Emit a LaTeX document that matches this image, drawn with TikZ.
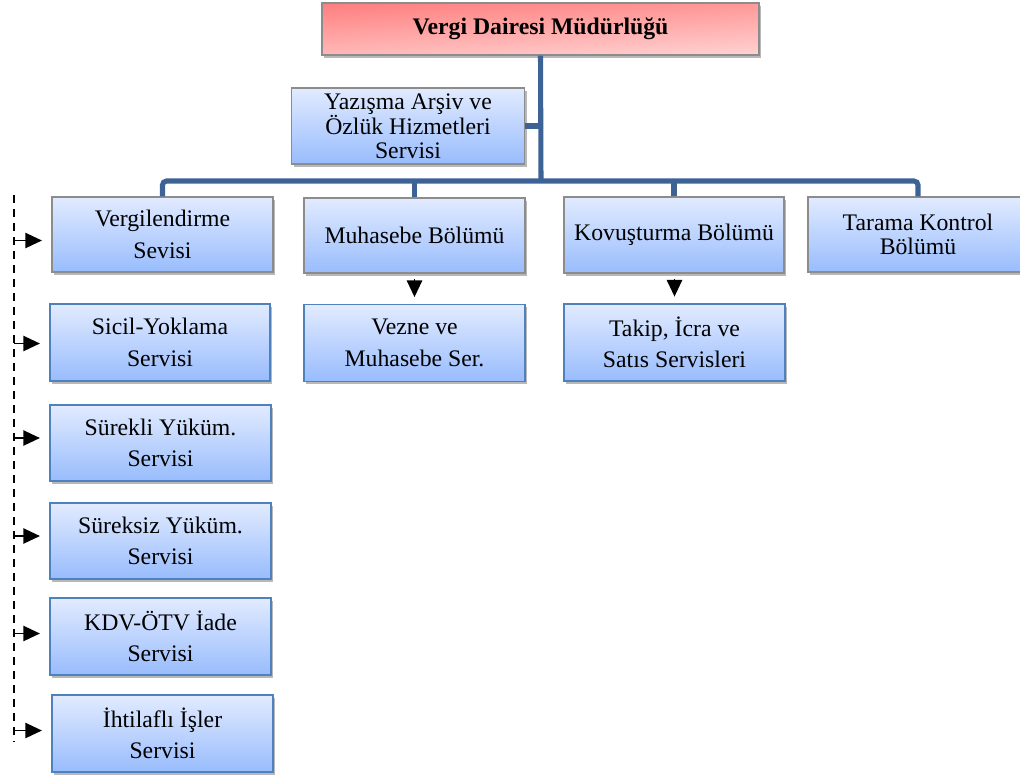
\documentclass[tikz,border=0pt]{standalone}
\usepackage{fontspec}
\setmainfont{Liberation Serif}
\newfontfamily\boxfont{Liberation Serif}
\usetikzlibrary{arrows.meta,shadows}

\definecolor{linkblue}{RGB}{61,99,150}
\definecolor{boxtop}{RGB}{226,235,255}
\definecolor{boxbot}{RGB}{152,188,253}
\definecolor{redtop}{RGB}{255,128,128}
\definecolor{redbot}{RGB}{255,208,208}
\definecolor{edgegray}{RGB}{140,140,140}
\definecolor{edgeblue}{RGB}{79,129,189}

\tikzset{
  box/.style={rectangle, draw=edgegray, line width=1.1pt, inner sep=2pt,
    top color=boxtop, bottom color=boxbot, align=center,
    minimum width=165.75pt, minimum height=57pt,
    font=\boxfont\fontsize{17.8}{23.5}\selectfont,
    drop shadow={shadow xshift=1.8pt, shadow yshift=-2.2pt, fill=black, opacity=0.28}},
  bluedge/.style={draw=edgeblue},
  tight/.style={font=\boxfont\fontsize{17.8}{17.5}\selectfont},
  headbox/.style={box, top color=redtop, bottom color=redbot, shading angle=3,
    minimum width=327.75pt, minimum height=39pt,
    font=\boxfont\fontsize{17.8}{20}\selectfont\bfseries},
  conn/.style={draw=linkblue, line width=3.8pt, rounded corners=3pt},
  arr/.style={draw=black, line width=1.2pt, -{Triangle[length=12.5pt,width=11.5pt]}},
  guide/.style={draw=black, line width=1.6pt, dash pattern=on 6pt off 4.5pt}
}

\begin{document}
\begin{tikzpicture}[x=0.75pt,y=-0.75pt]
\clip (0,0) rectangle (1020,776);
\useasboundingbox (0,0) rectangle (1020,776);

% top of the hierarchy
\node[headbox] (head) at (540.5,29) {Vergi Dairesi Müdürlüğü};
\node[box, tight, minimum width=174.75pt] (yaz) at (408,126) {Yazışma Arşiv ve\\Özlük Hizmetleri\\Servisi};

% departments
\node[box, minimum height=56.25pt] (verg) at (162.5,234.5) {Vergilendirme\\Sevisi};
\node[box, minimum height=56.25pt] (muh) at (414.5,235.5) {Muhasebe Bölümü};
\node[box, minimum width=165pt] (kov) at (674,235) {Kovuşturma Bölümü};
\node[box, tight, minimum width=165pt, minimum height=56.25pt] (tar) at (918,234.5) {Tarama Kontrol\\Bölümü};

% services under departments
\node[box, bluedge, minimum height=57.75pt] (vez) at (414.5,343) {Vezne ve\\Muhasebe Ser.};
\node[box, bluedge, minimum height=57.75pt] (tak) at (674.5,342.5) {Takip, İcra ve\\Satıs Servisleri};

% services of the tax assessment branch
\node[box, bluedge, minimum width=165pt, minimum height=57.75pt] (sic) at (160,342.5) {Sicil-Yoklama\\Servisi};
\node[box, bluedge] (sur) at (160.5,443) {Sürekli Yüküm.\\Servisi};
\node[box, bluedge] (surz) at (160.5,541) {Süreksiz Yüküm.\\Servisi};
\node[box, bluedge, minimum height=57.75pt] (kdv) at (160.5,636.5) {KDV-ÖTV İade\\Servisi};
\node[box, bluedge, minimum height=57.75pt] (iht) at (162.5,733.5) {İhtilaflı İşler\\Servisi};

% main connector tree
\coordinate (bar) at (541,181);
\draw[conn] (head.south) -- (bar);
\draw[conn] (yaz.east) -- (yaz.east -| bar);
\draw[conn] (verg.north) -- (verg.north |- bar) -- (tar.north |- bar) -- (tar.north);
\draw[conn] (muh.north) -- (muh.north |- bar);
\draw[conn] (kov.north) -- (kov.north |- bar);

% department to service arrows
\draw[arr, shorten <=4pt, shorten >=5pt] (muh.south) -- (vez.north);
\draw[arr, shorten <=4pt, shorten >=5pt] (kov.south -| tak.north) -- (tak.north);

% dashed guide with side arrows
\coordinate (gtop) at (14,195);
\coordinate (gbot) at (14,742);
\draw[guide] (gtop) -- (gbot);
\foreach \n/\dy in {verg/6, sic/1, sur/-5, surz/-5, kdv/-3, iht/-3}{
  \draw[arr, shorten >=7pt] ([yshift=-\dy*0.75pt]gtop |- \n.west) -- ([yshift=-\dy*0.75pt]\n.west);
}
\end{tikzpicture}
\end{document}
